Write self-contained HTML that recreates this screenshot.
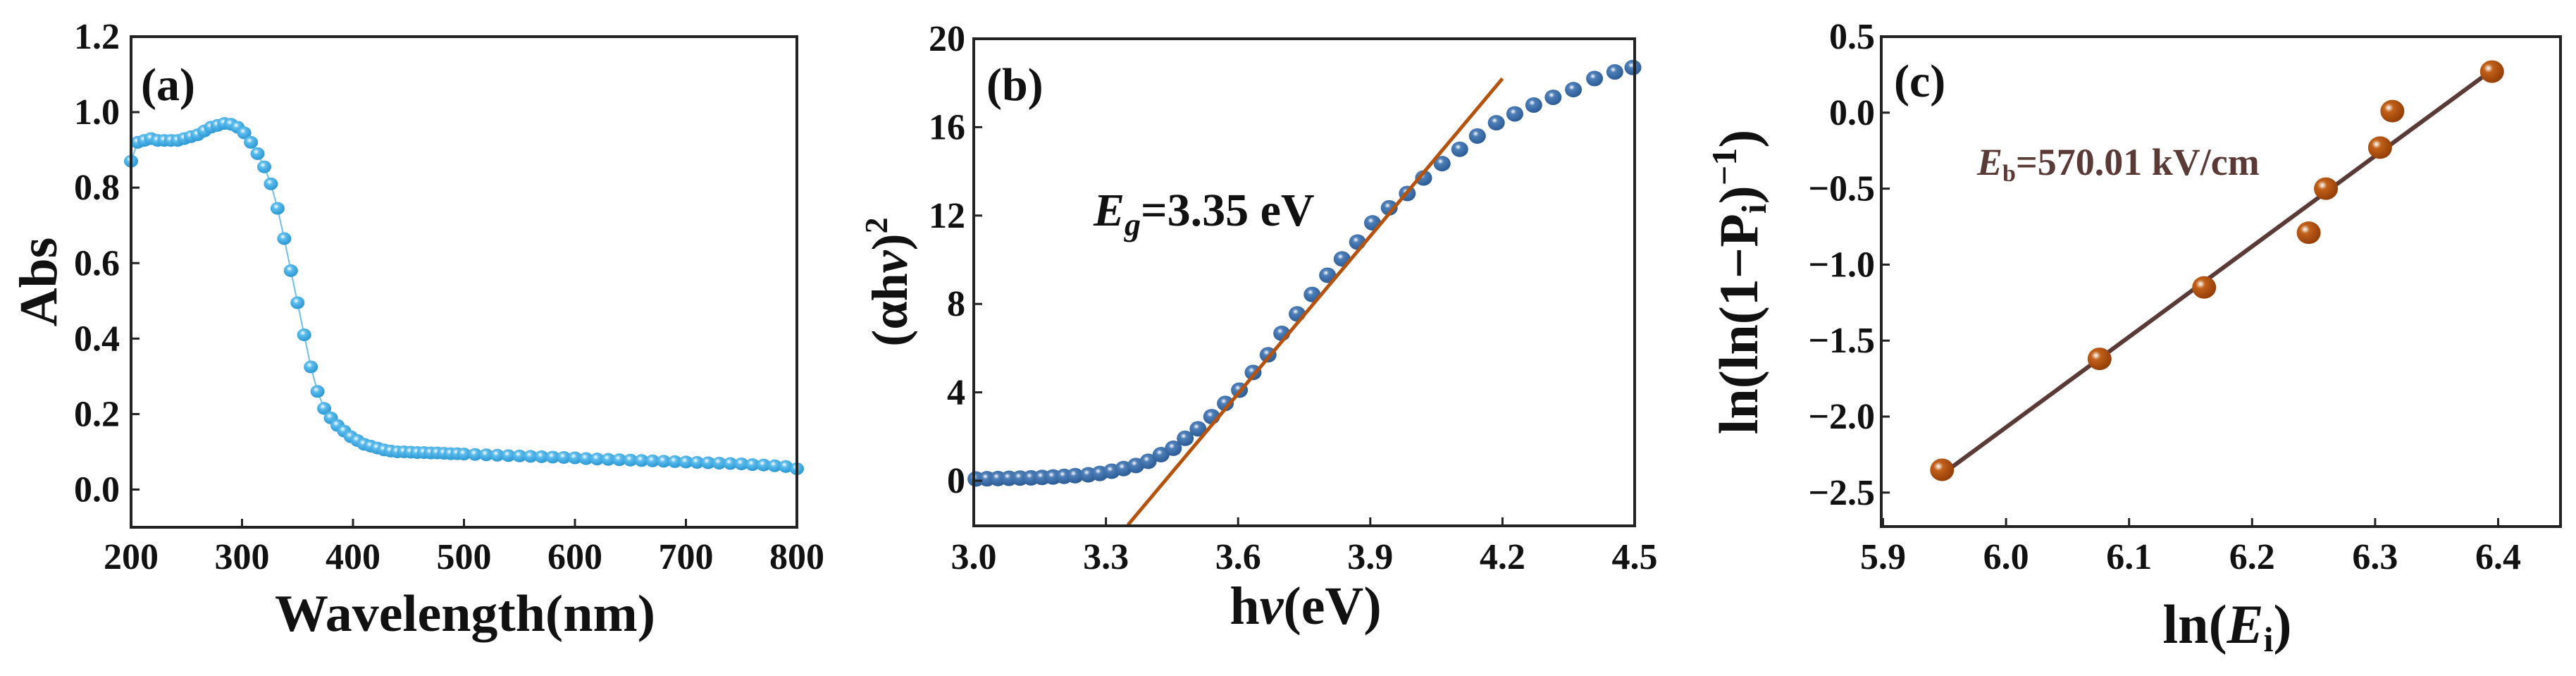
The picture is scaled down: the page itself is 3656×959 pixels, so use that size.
<!DOCTYPE html>
<html><head><meta charset="utf-8"><style>
html,body{margin:0;padding:0;background:#fff;}
svg{display:block;font-family:"Liberation Serif",serif;font-weight:bold;}
</style></head><body>
<svg id="fig" width="3656" height="959" viewBox="0 0 3656 959" xmlns="http://www.w3.org/2000/svg">
<defs>
<radialGradient id="gA" cx="0.4" cy="0.35" r="0.6"><stop offset="0" stop-color="#ffffff"/><stop offset="0.35" stop-color="#5cbcec"/><stop offset="1" stop-color="#2f9bd6"/></radialGradient>
<radialGradient id="gB" cx="0.4" cy="0.35" r="0.6"><stop offset="0" stop-color="#ffffff"/><stop offset="0.3" stop-color="#4f7fb8"/><stop offset="1" stop-color="#2f5f98"/></radialGradient>
<radialGradient id="gC" cx="0.35" cy="0.35" r="0.65"><stop offset="0" stop-color="#ffffff"/><stop offset="0.3" stop-color="#c0601a"/><stop offset="1" stop-color="#963f08"/></radialGradient>
</defs>
<g id="pa"></g>
<g id="pb"></g>
<g id="pc"></g>
</svg>
<script>
// Panel (a) data
const aWavelength = [200,206,212,218,224,230,236,242,248,254,260,266,272,278,284,290,296,302,308,314,320,326,332,338,344,350,356,362,368,374,380,386,392,398,404,410,416,422,428,434,440,446,452,458,464,470,476,482,488,494,500,510,520,530,540,550,560,570,580,590,600,610,620,630,640,650,660,670,680,690,700,710,720,730,740,750,760,770,780,790,800];
const aAbs = [0.87,0.92,0.925,0.93,0.925,0.925,0.925,0.925,0.93,0.935,0.94,0.95,0.96,0.965,0.97,0.968,0.96,0.945,0.92,0.89,0.855,0.81,0.745,0.665,0.58,0.495,0.41,0.325,0.26,0.215,0.19,0.17,0.155,0.14,0.13,0.12,0.115,0.11,0.105,0.102,0.10,0.10,0.099,0.098,0.098,0.097,0.097,0.096,0.095,0.095,0.094,0.093,0.092,0.091,0.09,0.089,0.088,0.087,0.086,0.085,0.084,0.082,0.081,0.08,0.079,0.078,0.077,0.076,0.075,0.074,0.073,0.072,0.071,0.07,0.069,0.068,0.066,0.065,0.063,0.061,0.055];
const aXTicks = [200,300,400,500,600,700,800];
const aYTicks = [0.0,0.2,0.4,0.6,0.8,1.0,1.2];
// Panel (b) data
const bEnergy = [3.005,3.03,3.055,3.08,3.105,3.13,3.155,3.18,3.205,3.23,3.26,3.286,3.313,3.34,3.368,3.396,3.425,3.453,3.48,3.509,3.54,3.571,3.603,3.634,3.668,3.699,3.734,3.768,3.803,3.836,3.871,3.905,3.943,3.984,4.021,4.063,4.103,4.143,4.186,4.228,4.271,4.315,4.361,4.409,4.455,4.496];
const bAlpha = [0.08,0.09,0.1,0.11,0.12,0.13,0.15,0.17,0.2,0.23,0.27,0.33,0.43,0.55,0.69,0.88,1.18,1.47,1.92,2.35,2.9,3.5,4.1,4.9,5.7,6.67,7.55,8.43,9.3,10.04,10.8,11.67,12.35,13.0,13.7,14.35,15.0,15.6,16.2,16.6,17.0,17.35,17.7,18.2,18.5,18.7];
const bFitX = [3.35,4.2];
const bFitY = [-2,18.2];
const bXTicks = [3.0,3.3,3.6,3.9,4.2,4.5];
const bYTicks = [0,4,8,12,16,20];
// Panel (c) data
const cLnE = [5.948,6.076,6.161,6.246,6.26,6.304,6.314,6.395];
const cLnP = [-2.35,-1.62,-1.15,-0.79,-0.5,-0.23,0.01,0.27];
const cFitX = [5.948,6.395];
const cFitY = [-2.38,0.28];
const cXTicks = [5.9,6.0,6.1,6.2,6.3,6.4];
const cYTicks = [-2.5,-2.0,-1.5,-1.0,-0.5,0.0,0.5];

const NS='http://www.w3.org/2000/svg';
function mk(parent,tag,attrs,text){const e=document.createElementNS(NS,tag);for(const k in attrs)e.setAttribute(k,attrs[k]);if(text!==undefined)e.textContent=text;parent.appendChild(e);return e;}
function lin(d0,d1,r0,r1){return v=>r0+(v-d0)/(d1-d0)*(r1-r0);}

function axes(g,box,xs,ys,xt,yt,xfmt,yfmt,xlblY,ylblX){
  const fr=mk(g,'rect',{x:box.l,y:box.t,width:box.r-box.l,height:box.b-box.t,fill:'none',stroke:'#222',"stroke-width":4});
  
  
  xt.forEach(v=>{const x=xs(v);
    const t=mk(g,'line',{x1:x,x2:x,y1:box.b,y2:box.b-12,stroke:'#222',"stroke-width":3});
    
    
    const l=mk(g,'text',{x:x,y:xlblY,"text-anchor":'middle',"font-size":52,fill:'#111'},xfmt(v));
    
    
  });
  yt.forEach(v=>{const y=ys(v);
    const t=mk(g,'line',{x1:box.l,x2:box.l+12,y1:y,y2:y,stroke:'#222',"stroke-width":3});
    
    
    const l=mk(g,'text',{x:ylblX,y:y+17,"text-anchor":'end',"font-size":52,fill:'#111'},yfmt(v));
    
    
  });
}
function fmtMinus(d){return v=>{const s=v.toFixed(d);return v<0?'\u2212'+s.slice(1):s;};}

// ---- Panel a
(function(){
  const g=document.getElementById('pa');
  const box={l:186,r:1131,t:52,b:748};
  const xs=lin(200,800,box.l,box.r), ys=lin(0,1.2,694.5,52);
  const cg=mk(g,'g',{});
  
  
  const pl=mk(cg,'polyline',{points:aWavelength.map((x,i)=>xs(x)+','+ys(aAbs[i])).join(' '),fill:'none',stroke:'#6cc0ea',"stroke-width":2});
  
  
  aWavelength.forEach((x,i)=>{
    const c=mk(cg,'ellipse',{cx:xs(x),cy:ys(aAbs[i]),rx:10,ry:9,fill:'url(#gA)'});
    
    
  });
  axes(g,box,xs,ys,aXTicks,aYTicks,v=>String(v),v=>v.toFixed(1),807,170);
  const pa=mk(g,'text',{x:200,y:142,"font-size":66,fill:'#111'},'(a)');
  
  
  const xt=mk(g,'text',{x:660,y:895,"text-anchor":'middle',"font-size":74,fill:'#111',textLength:540,lengthAdjust:'spacingAndGlyphs'},'Wavelength(nm)');
  
  
  const yt=mk(g,'text',{x:0,y:0,"text-anchor":'middle',"font-size":76,fill:'#111',transform:'translate(80,400) rotate(-90)'},'Abs');
  
  
})();

// ---- Panel b
(function(){
  const g=document.getElementById('pb');
  const box={l:1382,r:2320,t:55,b:746};
  const xs=lin(3.0,4.5,box.l,box.r), ys=lin(0,20,682,55);
  const cg=mk(g,'g',{});
  
  
  bEnergy.forEach((x,i)=>{
    const c=mk(cg,'ellipse',{cx:xs(x),cy:ys(bAlpha[i]),rx:12,ry:11,fill:'url(#gB)'});
    
    
  });
  const fl=mk(g,'line',{x1:xs(bFitX[0]),y1:ys(bFitY[0]),x2:xs(bFitX[1]),y2:ys(bFitY[1]),stroke:'#b5520e',"stroke-width":5});
  
  
  axes(g,box,xs,ys,bXTicks,bYTicks,v=>v.toFixed(1),v=>String(v),807,1370);
  const pb=mk(g,'text',{x:1400,y:142,"font-size":66,fill:'#111'},'(b)');
  
  
  const eg=mk(g,'text',{x:1552,y:320,"font-size":66,fill:'#111'});
  
  
  eg.innerHTML='<tspan font-style="italic">E</tspan><tspan font-style="italic" font-size="46" dy="14">g</tspan><tspan dy="-14">=3.35 eV</tspan>';
  const xt=mk(g,'text',{x:1853,y:885,"text-anchor":'middle',"font-size":76,fill:'#111'});
  
  
  xt.innerHTML='h<tspan font-style="italic">v</tspan>(eV)';
  const yt=mk(g,'text',{x:0,y:0,"text-anchor":'middle',"font-size":72,fill:'#111',transform:'translate(1287,400) rotate(-90)'});
  
  
  yt.innerHTML='(\u03B1h<tspan font-style="italic">v</tspan>)<tspan font-size="46" dy="-28">2</tspan>';
})();

// ---- Panel c
(function(){
  const g=document.getElementById('pc');
  const box={l:2670,r:3634,t:52,b:747};
  const xs=lin(5.9,6.4,2672.5,3545.5), ys=lin(0,0.5,159.8,52);
  const fl=mk(g,'line',{x1:xs(cFitX[0]),y1:ys(cFitY[0]),x2:xs(cFitX[1]),y2:ys(cFitY[1]),stroke:'#5a3a36',"stroke-width":6});
  
  
  const cg=mk(g,'g',{});
  
  
  cLnE.forEach((x,i)=>{
    const c=mk(cg,'ellipse',{cx:xs(x),cy:ys(cLnP[i]),rx:17,ry:16,fill:'url(#gC)'});
    
    
  });
  axes(g,box,xs,ys,cXTicks,cYTicks,v=>v.toFixed(1),fmtMinus(1),807,2661);
  const pc=mk(g,'text',{x:2688,y:137,"font-size":66,fill:'#111'},'(c)');
  
  
  const eb=mk(g,'text',{x:2806,y:248,"font-size":54,fill:'#5a3a36'});
  
  
  eb.innerHTML='<tspan font-style="italic">E</tspan><tspan font-size="34" dy="9">b</tspan><tspan dy="-9">=570.01 kV/cm</tspan>';
  const xt=mk(g,'text',{x:3161,y:912,"text-anchor":'middle',"font-size":78,fill:'#111'});
  
  
  xt.innerHTML='ln(<tspan font-style="italic">E</tspan><tspan font-size="50" dy="12">i</tspan><tspan dy="-12">)</tspan>';
  const yt=mk(g,'text',{x:0,y:0,"text-anchor":'middle',"font-size":78,fill:'#111',transform:'translate(2494,400) rotate(-90)'});
  
  
  yt.innerHTML='ln(ln(1\u2212P<tspan font-size="50" dy="12">i</tspan><tspan dy="-12">)</tspan><tspan font-size="50" dy="-30">\u22121</tspan><tspan dy="30">)</tspan>';
})();
</script>
</body></html>
